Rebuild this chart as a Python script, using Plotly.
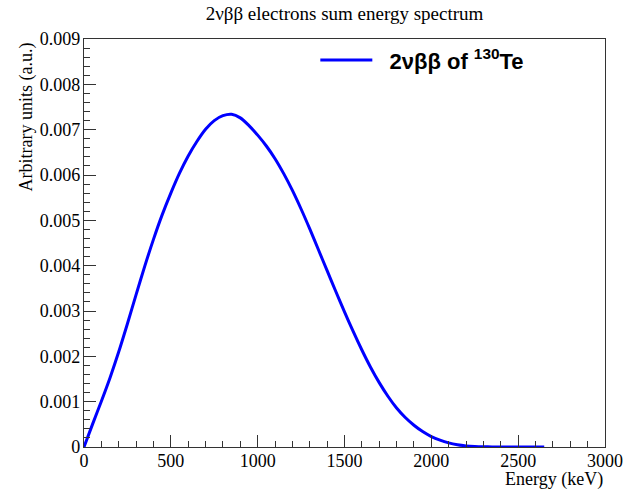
import plotly.graph_objects as go

# Energy bins (keV) and normalized spectrum values (a.u.)
energy_kev = [0, 50, 100, 150, 200, 250, 300, 350, 400, 450,
              500, 550, 600, 650, 700, 750, 800, 850, 900, 950,
              1000, 1050, 1100, 1150, 1200, 1250, 1300, 1350, 1400, 1450,
              1500, 1550, 1600, 1650, 1700, 1750, 1800, 1850, 1900, 1950,
              2000, 2050, 2100, 2150, 2200, 2250, 2300, 2350, 2400, 2450,
              2500, 2550, 2600, 2650]
spectrum = [0.0, 0.00051, 0.00101, 0.00153, 0.00210, 0.00272, 0.00336, 0.00399, 0.00458, 0.00512,
            0.00560, 0.00604, 0.00642, 0.00674, 0.00701, 0.00720, 0.00731, 0.00734, 0.00726, 0.00709,
            0.00688, 0.00664, 0.00636, 0.00603, 0.00566, 0.00525, 0.00481, 0.00435, 0.00389, 0.00343,
            0.00298, 0.00255, 0.00214, 0.00176, 0.00142, 0.00112, 0.00086, 0.00065, 0.00048, 0.00034,
            0.00023, 0.00015, 0.00009, 0.00005, 0.000025, 0.000012, 0.000005, 0.000002, 0.0000005, 0.0,
            0.0, 0.0, 0.0, 0.0]

x_ticks = [0, 500, 1000, 1500, 2000, 2500, 3000]
y_ticks = [0, 0.001, 0.002, 0.003, 0.004, 0.005, 0.006, 0.007, 0.008, 0.009]
y_tick_text = ["0", "0.001", "0.002", "0.003", "0.004", "0.005", "0.006", "0.007", "0.008", "0.009"]

title_text = "2νββ electrons sum energy spectrum"
legend_name = "\u00a0\u00a02νββ of <sup>130</sup>Te"
x_title = "Energy (keV)"
y_title = "Arbitrary units (a.u.)"

SERIF = "Liberation Serif, Times New Roman, serif"
SANS = "Liberation Sans, Arial, sans-serif"

fig = go.Figure()
fig.add_trace(go.Scatter(
    x=energy_kev, y=spectrum, mode="lines", name=legend_name,
    line=dict(color="#0000ff", width=3, shape="spline", smoothing=0.8),
))

axis_common = dict(
    showgrid=False, zeroline=False, showline=True, mirror=True,
    linecolor="#333333", linewidth=1.2,
    ticks="inside", ticklen=12, tickwidth=1, tickcolor="#333333",
    tickfont=dict(family=SERIF, size=18, color="black"),
)

fig.update_layout(
    width=635, height=489,
    margin=dict(l=84, r=26, t=39, b=42),
    paper_bgcolor="white", plot_bgcolor="white",
    title=dict(text=title_text, x=0.5, xref="paper", xanchor="center",
               y=1 - 13 / 489, yref="container", yanchor="middle",
               font=dict(family=SERIF, size=19, color="black")),
    xaxis=dict(range=[0, 3000], tickvals=x_ticks, ticklabelstandoff=-3,
               minor=dict(ticks="inside", ticklen=6, dtick=100, tickcolor="#333333"),
               **axis_common),
    yaxis=dict(range=[0, 0.009], tickvals=y_ticks, ticktext=y_tick_text,
               ticklabelstandoff=-1,
               minor=dict(ticks="inside", ticklen=6, dtick=0.0002, tickcolor="#333333"),
               **axis_common),
    showlegend=True,
    legend=dict(x=0.444, xanchor="left", y=0.948, yanchor="middle",
                bgcolor="rgba(0,0,0,0)", borderwidth=0,
                font=dict(family=SANS, size=22, color="black", weight="bold"),
                itemwidth=52),
    annotations=[
        dict(text=x_title, xref="paper", yref="paper", x=1.0, y=-0.079,
             xanchor="right", yanchor="middle", showarrow=False,
             font=dict(family=SERIF, size=18, color="black")),
        dict(text=y_title, xref="paper", yref="paper", x=-0.11, y=0.997,
             xanchor="center", yanchor="top", textangle=-90, showarrow=False,
             font=dict(family=SERIF, size=18, color="black")),
    ],
)

fig.write_html("out.html")
